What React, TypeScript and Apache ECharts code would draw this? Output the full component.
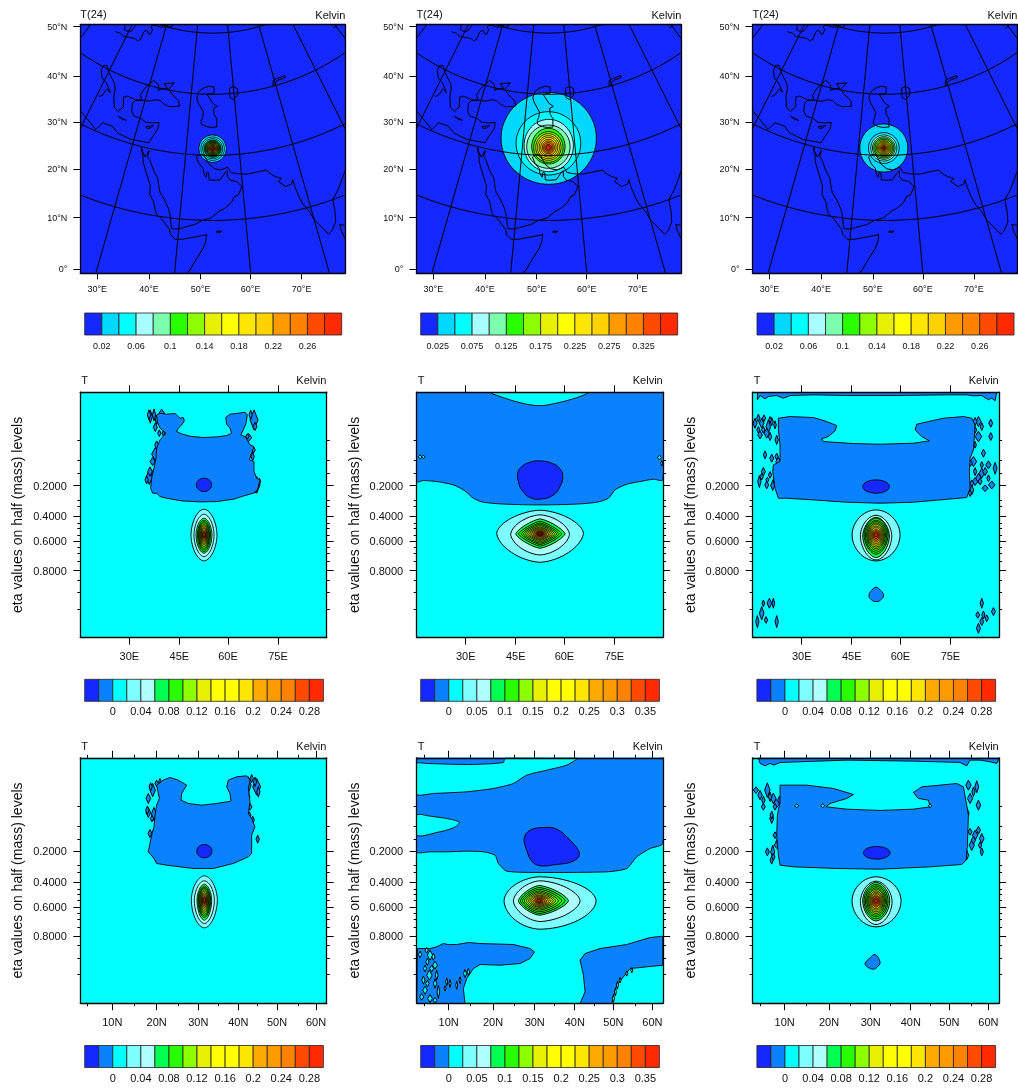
import React, { useEffect, useRef } from "react";
import * as echarts from "echarts";

const FONT = "Liberation Sans";
const DARK = "#1428ff";
const DODGER = "#0a82ff";
const CYAN = "#00ffff";

// ---------- colour bars ----------
const palette15 = ["#1428ff", "#00d8ff", "#00ffff", "#a8ffff", "#7dffb0", "#28ff00", "#8cff00", "#e6f000", "#ffff00", "#ffe600", "#ffd200", "#ff9a00", "#ff8200", "#ff4a00", "#ff2a00"];
const palette17 = ["#1428ff", "#0a82ff", "#00ffff", "#7dffff", "#b0ffff", "#00ff50", "#28ff00", "#8cff00", "#e6f000", "#ffff00", "#ffff00", "#ffe600", "#ffaa00", "#ff9a00", "#ff8200", "#ff4a00", "#ff2a00"];
const coreColors = ["#7dffff", "#b0ffff", "#00ff50", "#28ff00", "#28ff00", "#8cff00", "#8cff00", "#e6f000", "#e6f000", "#ffe600", "#ffaa00", "#ff8200", "#ff4a00", "#ff2a00"];
const tightCoreColors = ["#00d8ff", "#00ffff", "#00ffff", "#7dffb0", "#28ff00", "#28ff00", "#8cff00", "#8cff00", "#8cff00", "#e6f000", "#e6f000", "#e6f000", "#ffe600", "#ffd200", "#ff9a00", "#ff9a00", "#ff8200", "#ff4a00", "#ff2a00"];
const mapLevelsA = [0, 0.02, 0.04, 0.06, 0.08, 0.1, 0.12, 0.14, 0.16, 0.18, 0.2, 0.22, 0.24, 0.26, 0.28, 0.3];
const mapLabelsA = [0.02, 0.06, 0.1, 0.14, 0.18, 0.22, 0.26];
const mapLevelsB = [0, 0.025, 0.05, 0.075, 0.1, 0.125, 0.15, 0.175, 0.2, 0.225, 0.25, 0.275, 0.3, 0.325, 0.35, 0.375];
const mapLabelsB = [0.025, 0.075, 0.125, 0.175, 0.225, 0.275, 0.325];
const secLevelsA = [-0.04, -0.02, 0, 0.02, 0.04, 0.06, 0.08, 0.1, 0.12, 0.14, 0.16, 0.18, 0.2, 0.22, 0.24, 0.26, 0.28, 0.3];
const secLabelsA = [0, 0.04, 0.08, 0.12, 0.16, 0.2, 0.24, 0.28];
const secLevelsB = [-0.05, -0.025, 0, 0.025, 0.05, 0.075, 0.1, 0.125, 0.15, 0.175, 0.2, 0.225, 0.25, 0.275, 0.3, 0.325, 0.35, 0.375];
const secLabelsB = [0, 0.05, 0.1, 0.15, 0.2, 0.25, 0.3, 0.35];

// ---------- axes ----------
const mapLonTicks = [51, 206, 361, 511, 664];
const mapLonLabels = ["30°E", "40°E", "50°E", "60°E", "70°E"];
const mapLatTicks = [6, 154, 293, 433, 579, 734];
const mapLatLabels = ["50°N", "40°N", "30°N", "20°N", "10°N", "0°"];
const lonTicks = [147, 297, 443, 593];
const lonLabels = ["30E", "45E", "60E", "75E"];
const latTicks = [96, 229, 354, 474, 590, 707];
const latLabels = ["10N", "20N", "30N", "40N", "50N", "60N"];
const latMinor = [22, 162, 294, 414, 532, 654];
const etaTicks = [280, 372, 447, 535];
const etaLabels = ["0.2000", "0.4000", "0.6000", "0.8000"];
const etaMinor = [145, 205, 243, 323, 343, 393, 408, 428, 466, 483, 508, 563, 600, 650];

// ---------- geography, lon/lat ----------
const arabiaIndia = [[34.9, 29.5], [34.8, 28], [35.6, 27.3], [36.5, 26], [37.3, 24.8], [38.5, 23.5], [39.1, 21.7], [39.7, 20.3], [41, 18.8], [42.2, 17], [42.8, 15.5], [43.2, 13.6], [43.5, 12.7], [45, 12.8], [46.5, 13.4], [48.5, 14], [50, 14.9], [52.2, 15.6], [54, 17], [55.3, 17.6], [57, 18.9], [57.8, 20.2], [58.8, 20.5], [59.8, 22.4], [58.6, 23.6], [57, 24], [56.3, 24.9], [56.3, 26.3], [55.5, 25.5], [54.4, 24.2], [52.6, 24.1], [51.6, 24.2], [51.5, 25.8], [51, 26], [50.8, 24.8], [50.2, 25.7], [50, 26.8], [48.8, 28], [48, 29.5], [48.6, 30], [50, 30.2], [50.8, 29], [51.5, 27.9], [53, 26.8], [54.7, 26.5], [56.5, 27.1], [57.3, 25.8], [59, 25.4], [61.5, 25.1], [64, 25.3], [66.5, 25.4], [67.3, 24.5], [68.5, 23.5], [70, 22.8], [69, 22.3], [70.5, 20.8], [72, 21], [72.6, 21.9], [72.7, 20], [73, 18], [73.5, 16], [74.5, 14], [75, 12], [76.2, 10], [77, 8.3], [78, 8.8], [79.3, 10.3], [79.9, 12.5], [80.3, 15], [82.3, 16.7], [85, 19.5], [87, 21.3], [89, 21.8], [91, 22.5], [92, 21], [94.3, 17], [94.5, 16], [97, 17], [97.7, 15], [98.5, 11]];
const africaRedSea = [[32.5, 30], [33.5, 28], [34, 26.5], [35.5, 24], [37, 21.5], [37.3, 19.5], [38.5, 18], [39.5, 15.5], [41, 14.5], [43, 12.5], [43.3, 11.5], [44.5, 10.5], [46, 10.7], [48, 11.2], [51.2, 11.9], [51, 10.4], [50.5, 9], [49, 6.5], [48, 4.5], [46, 2.5], [43.5, 0], [41.5, -2], [40, -4]];
const sinai = [[32.5, 30], [33, 29], [34.2, 27.8], [34.9, 29.5]];
const medBlack = [[12, 33], [15, 32], [19, 30.3], [20, 32.5], [23, 32.6], [25, 31.5], [29, 31], [32, 31.2], [34.3, 31.3], [35, 33], [36, 35], [36, 36.7], [34, 36.2], [32, 36], [30.5, 36.5], [28, 36.7], [27, 37.5], [26.3, 39.5], [27, 40.4], [29, 41], [31.3, 41.2], [33.5, 42], [35, 42], [36.5, 41.3], [38.5, 41], [41.5, 41.5], [41, 42.7], [38, 44.4], [37, 45.3], [38.5, 47], [35, 46.3], [36.5, 45.3], [35, 45], [33.5, 44.4], [33, 45.8], [31, 46.5], [29.7, 45.2], [28.5, 43.5], [28, 42], [29, 41], [27, 40.6], [26, 40.7], [24, 40.8], [23, 40.3], [24, 38], [23, 36.5], [21.5, 37], [20, 39.5], [19.4, 41.5], [18.5, 42.5], [15, 44.5], [13.5, 45.7], [12.3, 45.3], [12.5, 44], [14, 42.4], [16, 41.8], [18.5, 40], [17, 40.5], [16.5, 38.5], [15.7, 38]];
const crete = [[23.6, 35.4], [25, 35.2], [26.2, 35.1], [25, 35.0], [23.6, 35.4]];
const cyprus = [[32.4, 35], [33.6, 35.3], [34.5, 35.6], [33.8, 34.9], [32.9, 34.6], [32.4, 35]];
const caspian = [[49, 37.5], [50.5, 37], [52, 36.8], [53.8, 36.9], [53.8, 39], [53, 40], [52.8, 41.5], [54, 42], [52.5, 42.8], [51, 44.5], [50.5, 45], [53, 45.3], [53, 46.8], [51, 47], [49, 46.4], [47.5, 45.5], [47, 44], [47.5, 43], [48.5, 41.8], [49.5, 40.5], [49.3, 39.2], [48.9, 38.4], [49, 37.5]];
const aral = [[58.5, 44], [59.5, 43.5], [61, 44.3], [61.5, 46], [60, 46.7], [58.5, 46.3], [58.5, 44]];
const balkhash = [[74, 45.2], [74.5, 46.3], [76, 46.6], [79, 46.7], [79, 46.2], [76, 46.1], [74.8, 45.5], [74, 45.2]];
const baikal = [[103.7, 51.6], [105, 51.6], [106.5, 52.5], [108, 53.5], [109.5, 55.5]];
const socotra = [[53.3, 12.5], [54.2, 12.4], [54.5, 12.6], [53.6, 12.7], [53.3, 12.5]];
const sriLanka = [[79.9, 9.5], [80.8, 9], [81.8, 7.5], [81, 6], [80, 6.3], [79.8, 8], [79.9, 9.5]];
const baltic = [[10, 54], [12, 54.3], [14, 54], [18.5, 54.7], [20, 54.5], [21, 55], [21, 57], [22, 57.7], [23.5, 57], [24.3, 57.2], [24.4, 58.3], [23.5, 58.7], [23.5, 59.2], [25, 59.5], [28, 59.5], [30, 60], [28, 60.6], [25, 60.2], [23, 59.9], [22, 60.5], [21.3, 61], [21.5, 63]];
const sweden = [[11, 58], [12.5, 56.3], [13, 55.5], [14.3, 55.5], [16, 56], [16.7, 58], [18.9, 60], [17.3, 61], [17.5, 62.5]];
const ladoga = [[30.8, 60], [32.5, 60.2], [32.8, 61], [31, 61.5], [30.2, 61], [30.8, 60]];
const coastlines = [arabiaIndia, africaRedSea, sinai, medBlack, crete, cyprus, caspian, aral, balkhash, baikal, socotra, sriLanka, baltic, sweden, ladoga];
const meridians = [0, 15, 30, 45, 60, 75, 90, 105, 120];
const parallels = [15, 30, 45, 60, 75];

// ---------- map contours: cx, cy, left, right, top, bottom, pointiness ----------
const mapRings1 = [[397, 372, 41, 41, 41, 41, 1], [397, 372, 35, 35, 35, 35, 1], [397, 372, 30, 30, 30, 30, 1], [397, 372, 26, 26, 26, 26, 1], [397, 372, 24, 24, 24, 24, 1], [397, 372, 22, 22, 22, 22, 1], [397, 372, 20.5, 20.5, 20.5, 20.5, 1], [397, 372, 19, 19, 19, 19, 1], [397, 372, 17.5, 17.5, 17.5, 17.5, 1], [397, 372, 16, 16, 16, 16, 1], [397, 372, 14.5, 14.5, 14.5, 14.5, 1], [397, 372, 13, 13, 13, 13, 1], [397, 372, 11.5, 11.5, 11.5, 11.5, 1], [397, 372, 10, 10, 10, 10, 1], [397, 372, 8.5, 8.5, 8.5, 8.5, 1], [397, 372, 7, 7, 7, 7, 1], [397, 372, 5.5, 5.5, 5.5, 5.5, 1], [397, 372, 4, 4, 4, 4, 1], [397, 372, 2.5, 2.5, 2.5, 2.5, 1]];
const mapRings2 = [[397, 341, 143, 143, 138, 138, 1], [396, 356, 97, 97, 95, 95, 1], [397, 363, 74, 74, 79, 78, 1], [396, 366, 65, 65, 65, 65, 1], [396, 366, 50, 50, 55, 52, 1], [396, 369, 44, 44, 48, 44, 1], [396, 369, 38, 38, 42, 38, 1], [396, 369, 33, 33, 36, 33, 1], [396, 369, 28, 28, 31, 28, 1], [396, 369, 23, 23, 25, 23, 1], [396, 369, 18, 18, 20, 18, 1], [396, 369, 14, 14, 15, 14, 1], [396, 369, 10, 10, 10, 10, 1], [396, 369, 6, 6, 6, 6, 1]];
const mapRings3 = [[394, 370, 72, 72, 72, 72, 1], [394, 370, 46, 46, 46, 46, 1], [394, 370, 39, 39, 39, 39, 1], [394, 370, 34, 34, 34, 34, 1], [394, 370, 30, 30, 30, 30, 1], [394, 370, 26, 26, 26, 26, 1], [394, 370, 22, 22, 22, 22, 1], [394, 370, 19, 19, 19, 19, 1], [394, 370, 16, 16, 16, 16, 1], [394, 370, 13, 13, 13, 13, 1], [394, 370, 10, 10, 10, 10, 1], [394, 370, 7, 7, 7, 7, 1], [394, 370, 5, 5, 5, 5, 1], [394, 370, 3, 3, 3, 3, 1]];

// ---------- section contours (offset by each panel's origin below) ----------
const lonA_blob = [[470, 150], [480, 145], [500, 148], [525, 146], [535, 155], [540, 160], [550, 158], [553, 168], [545, 180], [535, 190], [530, 200], [545, 207], [570, 214], [610, 218], [650, 216], [680, 212], [695, 205], [690, 190], [680, 178], [677, 158], [690, 148], [715, 145], [735, 142], [742, 150], [738, 175], [730, 195], [722, 210], [735, 215], [742, 225], [750, 240], [762, 245], [755, 265], [748, 285], [762, 290], [762, 320], [770, 340], [780, 345], [772, 375], [760, 385], [735, 392], [700, 403], [650, 410], [600, 411], [545, 408], [500, 400], [480, 395], [470, 385], [458, 385], [452, 370], [455, 340], [462, 310], [468, 280], [470, 250], [480, 225], [498, 205], [480, 190], [472, 170]];
const lonA_spots = [[451, 155, 6, 20], [466, 187, 6, 13], [485, 145, 8, 12], [466, 268, 11, 20], [448, 337, 10, 22], [762, 165, 12, 30], [745, 218, 10, 13], [760, 255, 6, 10], [770, 360, 10, 25], [447, 150, 5, 15], [462, 150, 5, 18], [470, 165, 4, 14], [478, 205, 5, 10], [490, 205, 4, 8], [470, 240, 6, 12], [458, 290, 8, 12], [450, 320, 7, 14], [440, 345, 5, 12], [463, 320, 6, 10], [752, 150, 5, 14], [765, 185, 6, 12], [742, 215, 5, 8], [758, 275, 5, 12], [755, 300, 5, 10], [768, 350, 6, 14], [778, 350, 4, 10], [765, 375, 6, 10]];
const lonA_low = [[612, 360, 23, 23, 20, 20, 1]];
const lonA_rings = [[612, 510, 39, 39, 77, 78, 1.1], [612, 510, 30, 30, 62, 65, 1.1], [612, 510, 24, 24, 50, 55, 1.1], [612, 510, 20, 20, 44, 50, 1.1], [612, 510, 17, 17, 40, 45, 1.1], [612, 510, 15, 15, 36, 40, 1.1], [612, 510, 13, 13, 32, 35, 1.1], [612, 510, 11, 11, 28, 30, 1.1], [612, 510, 9, 9, 24, 26, 1.1], [612, 510, 8, 8, 20, 22, 1.1], [612, 510, 7, 7, 16, 18, 1.1], [612, 510, 5, 5, 12, 14, 1.1], [612, 510, 4, 4, 8, 10, 1], [612, 510, 3, 3, 5, 6, 1]];

const lonB_upper = [[230, 82], [968, 82], [968, 345], [940, 343], [900, 350], [860, 358], [825, 375], [805, 400], [770, 412], [700, 418], [600, 420], [500, 418], [430, 412], [400, 400], [375, 378], [340, 360], [290, 350], [250, 347], [230, 350]];
const lonB_cap = [[450, 82], [745, 82], [720, 95], [670, 110], [610, 122], [570, 120], [520, 108], [480, 95]];
const lonB_spots = [[240, 276, 6, 6], [250, 276, 5, 5], [958, 278, 6, 7], [965, 295, 3, 8]];
const lonB_low = [[533, 325], [545, 305], [570, 292], [600, 288], [635, 295], [660, 312], [668, 335], [660, 365], [640, 390], [605, 402], [570, 398], [545, 375], [535, 350]];
const lonB_rings = [[600, 505, 130, 130, 69, 87, 1.2], [600, 508, 88, 88, 58, 62, 1.2], [600, 507, 73, 75, 45, 43, 1.5], [600, 507, 65, 65, 38, 37, 1.6], [600, 507, 57, 57, 33, 32, 1.6], [600, 507, 50, 50, 29, 28, 1.6], [600, 507, 44, 44, 25, 24, 1.6], [600, 507, 38, 38, 21, 20, 1.6], [600, 507, 32, 32, 18, 17, 1.6], [600, 507, 27, 27, 15, 14, 1.6], [600, 507, 22, 22, 12, 11, 1.6], [600, 507, 17, 17, 9, 8, 1.6], [600, 507, 13, 13, 7, 6, 1.6], [600, 507, 9, 9, 5, 4, 1.6], [600, 507, 5, 5, 3, 2, 1.6]];

const lonC_top = [[232, 82], [950, 82], [945, 108], [935, 100], [925, 105], [905, 92], [880, 93], [860, 90], [800, 90], [650, 92], [500, 92], [400, 90], [330, 92], [310, 100], [290, 92], [265, 95], [255, 102], [240, 92], [232, 105]];
const lonC_blob = [[295, 160], [330, 155], [400, 158], [440, 170], [470, 182], [465, 198], [445, 215], [425, 222], [430, 230], [520, 236], [600, 238], [700, 235], [748, 228], [725, 215], [705, 195], [710, 178], [745, 170], [790, 160], [850, 155], [875, 160], [885, 180], [880, 255], [870, 280], [868, 320], [870, 370], [860, 398], [780, 405], [700, 412], [600, 415], [500, 412], [400, 405], [320, 400], [295, 400], [285, 370], [278, 320], [280, 300], [300, 290], [300, 240], [295, 195]];
const lonC_spots = [[225, 175, 6, 15], [245, 175, 7, 15], [265, 185, 7, 20], [275, 170, 5, 12], [240, 210, 7, 12], [260, 205, 8, 15], [255, 270, 5, 12], [275, 280, 6, 12], [250, 320, 6, 12], [270, 330, 5, 10], [238, 350, 5, 18], [260, 360, 6, 12], [278, 362, 6, 15], [295, 290, 8, 12], [895, 170, 8, 15], [932, 175, 6, 12], [932, 215, 6, 12], [895, 215, 10, 16], [910, 265, 6, 12], [880, 290, 10, 15], [925, 300, 8, 12], [945, 310, 6, 18], [905, 325, 8, 15], [895, 340, 8, 15], [875, 375, 6, 15], [935, 360, 10, 12], [915, 370, 9, 10], [885, 350, 8, 12], [232, 770, 5, 18], [245, 745, 7, 20], [258, 765, 5, 10], [268, 715, 7, 15], [280, 715, 4, 15], [250, 715, 4, 10], [290, 770, 5, 18], [905, 715, 5, 15], [893, 750, 6, 10], [910, 750, 5, 12], [940, 740, 6, 12], [920, 760, 5, 10], [895, 790, 6, 15], [905, 770, 6, 12], [235, 160, 5, 12], [252, 160, 5, 10], [270, 165, 4, 10], [285, 180, 4, 12], [235, 195, 5, 10], [250, 195, 5, 10], [270, 215, 5, 12], [290, 225, 5, 14], [305, 225, 5, 12], [325, 235, 4, 10], [345, 232, 4, 8], [365, 225, 3, 8], [295, 300, 7, 6], [290, 275, 5, 10], [245, 335, 5, 10], [262, 345, 5, 8], [283, 345, 4, 12], [885, 170, 6, 12], [905, 185, 5, 12], [870, 205, 6, 10], [885, 195, 5, 10], [850, 230, 6, 12], [835, 240, 4, 8], [885, 240, 4, 10], [870, 295, 7, 10], [885, 320, 5, 12], [915, 320, 7, 12], [900, 350, 6, 10], [875, 355, 6, 10], [925, 340, 5, 10], [870, 385, 5, 10], [905, 300, 5, 10]];
const lonC_bump = [[588, 667], [600, 675], [610, 690], [605, 702], [590, 710], [572, 703], [567, 690], [575, 676]];
const lonC_low = [[588, 365, 40, 40, 20, 20, 1]];
const lonC_rings = [[588, 510, 72, 72, 75, 78, 1.05], [588, 513, 47, 47, 62, 72, 1.1], [588, 513, 40, 40, 56, 65, 1.15], [588, 510, 36, 36, 50, 58, 1.15], [588, 510, 32, 32, 44, 52, 1.1], [588, 510, 28, 28, 40, 46, 1.1], [588, 510, 25, 25, 36, 41, 1.1], [588, 510, 22, 22, 32, 36, 1.1], [588, 510, 19, 19, 27, 31, 1.1], [588, 510, 16, 16, 23, 26, 1.1], [588, 510, 13, 13, 18, 21, 1.1], [588, 510, 10, 10, 14, 16, 1.1], [588, 510, 7, 7, 10, 11, 1], [588, 510, 4, 4, 6, 6, 1]];

const latA_blob = [[470, 150], [490, 135], [510, 127], [535, 135], [560, 150], [545, 175], [543, 195], [565, 205], [605, 210], [650, 205], [693, 198], [690, 175], [680, 155], [685, 135], [710, 125], [740, 122], [750, 135], [745, 160], [750, 200], [745, 235], [755, 250], [765, 275], [755, 300], [755, 355], [745, 365], [700, 385], [640, 400], [580, 400], [500, 390], [470, 385], [462, 370], [445, 350], [455, 300], [462, 275], [465, 240], [470, 210], [478, 190]];
const latA_spots = [[445, 190, 7, 15], [458, 165, 8, 20], [445, 232, 7, 15], [462, 237, 8, 20], [450, 295, 6, 12], [773, 312, 5, 12], [745, 150, 8, 25], [770, 155, 12, 25], [750, 215, 6, 10], [755, 265, 5, 12], [452, 155, 5, 12], [470, 145, 5, 10], [480, 140, 4, 10], [442, 225, 5, 12], [456, 250, 5, 10], [458, 295, 5, 8], [738, 145, 6, 14], [755, 130, 5, 12], [765, 140, 5, 14], [775, 170, 5, 16], [745, 185, 5, 12], [748, 240, 5, 10], [758, 255, 5, 12]];
const latA_low = [[613, 348, 23, 23, 20, 20, 1]];
const latA_rings = [[613, 495, 39, 39, 73, 83, 1.1], [613, 495, 30, 30, 58, 70, 1.1], [613, 495, 22, 22, 48, 60, 1.1], [613, 495, 19, 19, 42, 52, 1.1], [613, 495, 17, 17, 38, 47, 1.1], [613, 495, 15, 15, 35, 42, 1.1], [613, 495, 13, 13, 31, 37, 1.1], [613, 495, 11, 11, 27, 32, 1.1], [613, 495, 9, 9, 23, 27, 1.1], [613, 495, 8, 8, 19, 22, 1.1], [613, 495, 7, 7, 15, 18, 1.1], [613, 495, 5, 5, 11, 14, 1.1], [613, 495, 4, 4, 8, 10, 1], [613, 495, 3, 3, 5, 6, 1]];

const latB_upper = [[230, 68], [968, 68], [968, 325], [930, 340], [890, 365], [860, 400], [800, 410], [600, 412], [500, 408], [475, 385], [465, 360], [430, 350], [380, 348], [320, 350], [270, 350], [230, 350]];
const latB_gapA = [[230, 85], [260, 85], [320, 87], [400, 88], [490, 82], [495, 68], [712, 68], [680, 90], [620, 105], [560, 120], [520, 145], [460, 160], [380, 170], [280, 175], [230, 178]];
const latB_gapB = [[230, 240], [270, 243], [330, 252], [358, 262], [340, 278], [290, 292], [230, 300]];
const latB_low = [[552, 310], [570, 285], [610, 277], [650, 282], [690, 315], [718, 355], [700, 378], [650, 388], [600, 392], [575, 378], [560, 345]];
const latB_lowerLeft = [[232, 640], [270, 640], [290, 635], [310, 625], [325, 628], [350, 628], [385, 622], [420, 625], [520, 628], [570, 640], [583, 650], [570, 670], [540, 685], [480, 690], [420, 688], [400, 700], [380, 730], [370, 760], [375, 805], [230, 805]];
const latB_holes = [[240, 658, 5, 10], [270, 660, 8, 15], [262, 680, 5, 10], [285, 690, 7, 12], [268, 720, 8, 15], [290, 720, 4, 15], [255, 765, 7, 12], [270, 790, 7, 12], [295, 770, 4, 20], [320, 740, 3, 12], [350, 750, 3, 12], [375, 715, 5, 12], [260, 645, 5, 8], [280, 665, 5, 10], [255, 700, 5, 10], [275, 700, 6, 10], [250, 735, 5, 12], [285, 745, 5, 14], [262, 745, 5, 10], [245, 785, 6, 10], [285, 795, 6, 8], [315, 760, 3, 8], [330, 745, 3, 12], [360, 735, 3, 10], [385, 710, 4, 10], [820, 790, 3, 12], [826, 770, 3, 12], [832, 750, 3, 12], [840, 735, 3, 8], [860, 715, 3, 8], [875, 705, 3, 8]];
const latB_lowerRight = [[968, 603], [930, 607], [860, 628], [780, 640], [735, 655], [720, 675], [730, 720], [735, 770], [720, 805], [815, 805], [830, 750], [870, 700], [920, 695], [968, 690]];
const latB_rings = [[600, 497, 108, 168, 72, 85, 1.1], [600, 497, 80, 120, 60, 62, 1.2], [597, 497, 62, 88, 46, 43, 1.4], [597, 497, 56, 78, 40, 38, 1.4], [597, 497, 50, 68, 35, 33, 1.4], [597, 497, 44, 58, 30, 28, 1.4], [597, 497, 38, 50, 26, 24, 1.4], [597, 497, 32, 43, 22, 20, 1.4], [597, 497, 27, 36, 18, 17, 1.4], [597, 497, 22, 30, 15, 14, 1.4], [597, 497, 17, 24, 12, 11, 1.4], [597, 497, 13, 18, 9, 8, 1.4], [597, 497, 9, 12, 6, 6, 1.4], [597, 497, 5, 7, 3, 3, 1.4]];

const latC_top = [[235, 68], [958, 68], [950, 85], [930, 80], [900, 75], [870, 75], [860, 92], [840, 82], [700, 78], [500, 75], [300, 82], [282, 90], [270, 85], [255, 92], [240, 85]];
const latC_blob = [[300, 150], [380, 150], [460, 160], [520, 178], [500, 190], [450, 205], [438, 215], [500, 222], [600, 226], [700, 222], [750, 215], [745, 195], [715, 190], [700, 172], [725, 155], [780, 150], [830, 145], [850, 155], [865, 240], [862, 330], [858, 375], [845, 388], [750, 395], [600, 402], [470, 400], [340, 395], [300, 390], [295, 360], [290, 300], [292, 240], [300, 200]];
const latC_spots = [[228, 165, 8, 10], [240, 180, 7, 14], [262, 165, 8, 22], [280, 190, 8, 16], [290, 205, 10, 12], [250, 215, 6, 10], [275, 250, 6, 15], [315, 240, 6, 10], [262, 350, 6, 12], [278, 350, 6, 20], [295, 320, 8, 15], [275, 375, 5, 12], [312, 290, 5, 10], [835, 185, 6, 15], [865, 150, 8, 15], [890, 155, 6, 18], [870, 190, 8, 15], [895, 210, 7, 15], [860, 235, 7, 18], [885, 300, 8, 15], [905, 310, 7, 15], [905, 350, 5, 12], [860, 360, 6, 14], [875, 330, 8, 16], [250, 195, 5, 12], [270, 185, 5, 14], [285, 215, 6, 10], [298, 195, 5, 12], [305, 225, 6, 12], [275, 240, 5, 12], [290, 330, 8, 10], [285, 300, 6, 10], [280, 365, 5, 10], [835, 170, 6, 14], [850, 190, 5, 10], [880, 170, 5, 14], [830, 215, 6, 10], [845, 230, 5, 12], [870, 290, 6, 10], [880, 315, 6, 12], [895, 285, 6, 12], [900, 330, 5, 10], [855, 350, 5, 12], [850, 375, 5, 8]];
const latC_holes = [[350, 212, 6, 6], [428, 212, 6, 6], [750, 212, 5, 6]];
const latC_bump = [[555, 685], [570, 668], [585, 658], [600, 680], [595, 692], [580, 702], [562, 695]];
const latC_low = [[590, 353, 40, 40, 19, 19, 1]];
const latC_rings = [[588, 497, 72, 75, 72, 78, 1.05], [588, 500, 47, 48, 62, 68, 1.1], [588, 497, 40, 41, 55, 60, 1.1], [588, 497, 36, 36, 49, 54, 1.1], [588, 497, 32, 32, 44, 48, 1.1], [588, 497, 28, 28, 39, 43, 1.1], [588, 497, 25, 25, 35, 38, 1.1], [588, 497, 22, 22, 30, 33, 1.1], [588, 497, 19, 19, 26, 28, 1.1], [588, 497, 16, 16, 22, 24, 1.1], [588, 497, 13, 13, 18, 19, 1.1], [588, 497, 10, 10, 14, 15, 1], [588, 497, 7, 7, 10, 10, 1], [588, 497, 4, 4, 6, 6, 1]];

type Pt = number[];
type Shape = { pts: Pt[]; fill: string; smooth?: number; lw?: number };

function project(lon: number, lat: number): Pt {
  const n = 0.707;
  const phi = (Math.max(lat, -30) * Math.PI) / 180;
  const rho = 1292 * Math.pow(Math.tan(Math.PI / 4 - phi / 2), n);
  const th = (n * (lon - 52.5) * Math.PI) / 180;
  return [397 + rho * Math.sin(th), rho * Math.cos(th) - 484];
}
function sample(a: number, b: number, step: number): number[] {
  const out: number[] = [];
  for (let v = a; v <= b + 1e-6; v += step) out.push(v);
  return out;
}
function ringPts(r: number[], ox: number, oy: number): Pt[] {
  const [cx, cy, l, rr, t, b, e] = r;
  return sample(0, 71, 1).map((i) => {
    const a = (i / 72) * 2 * Math.PI;
    const c = Math.cos(a);
    const s = Math.sin(a);
    return [
      cx - ox + (c > 0 ? rr : l) * Math.sign(c) * Math.pow(Math.abs(c), e),
      cy - oy + (s > 0 ? b : t) * Math.sign(s) * Math.pow(Math.abs(s), e),
    ];
  });
}
function shiftPts(p: number[][], ox: number, oy: number): Pt[] {
  return p.map(([x, y]) => [x - ox, y - oy]);
}
function diamonds(list: number[][], fill: string, ox: number, oy: number): Shape[] {
  return list.map(([x, y, rx, ry]) => ({
    pts: [[x - ox, y - ry - oy], [x + rx - ox, y - oy], [x - ox, y + ry - oy], [x - rx - ox, y - oy]],
    fill,
    lw: 1,
  }));
}
function rings(list: number[][], pal: string[], start: number, ox: number, oy: number, lw = 0.9): Shape[] {
  return list.map((r, i) => ({ pts: ringPts(r, ox, oy), fill: pal[Math.min(start + i, pal.length - 1)], lw }));
}
function region(p: number[][], fill: string, ox: number, oy: number, smooth = 0): Shape {
  return { pts: shiftPts(p, ox, oy), fill, smooth, lw: 0.9 };
}

const tickLine = { color: "#000", width: 1 };

function axis(
  dim: "x" | "y",
  grid: number,
  position: string,
  max: number,
  o: { line?: boolean; ticks?: number[]; len?: number; labels?: string[]; fontSize?: number; margin?: number; name?: string; nameGap?: number },
) {
  const ticks = o.ticks || [];
  const a: any = {
    type: "value",
    gridIndex: grid,
    position,
    min: 0,
    max,
    inverse: dim === "y",
    z: 6,
    splitLine: { show: false },
    axisLine: { show: !!o.line, onZero: false, lineStyle: { color: "#000", width: 1.3 } },
    axisTick: { show: ticks.length > 0, length: o.len || 3, customValues: ticks, lineStyle: tickLine },
    axisLabel: o.labels
      ? {
          show: true,
          customValues: ticks,
          margin: o.margin,
          fontSize: o.fontSize,
          fontFamily: FONT,
          color: "#111",
          formatter: (v: number) => o.labels![ticks.indexOf(v)] ?? "",
        }
      : { show: false },
  };
  if (o.name) {
    a.name = o.name;
    a.nameLocation = "middle";
    a.nameRotate = 90;
    a.nameGap = o.nameGap;
    a.nameTextStyle = { fontSize: 14, fontFamily: FONT, color: "#111" };
  }
  return a;
}

function buildOption() {
  const grid: any[] = [];
  const xAxis: any[] = [];
  const yAxis: any[] = [];
  const series: any[] = [];
  const graphic: any[] = [];

  const text = (t: string, x: number, y: number, fontSize: number, textAlign: string) =>
    graphic.push({
      type: "text",
      x,
      y,
      silent: true,
      style: { text: t, fontSize, fontFamily: FONT, fill: "#111", textAlign, textVerticalAlign: "middle", verticalAlign: "middle" },
    });

  const addShapes = (shapes: Shape[], xi: number, yi: number) =>
    series.push({
      type: "custom",
      coordinateSystem: "cartesian2d",
      xAxisIndex: xi,
      yAxisIndex: yi,
      clip: true,
      silent: true,
      data: shapes.map((_, i) => [i]),
      renderItem: (_p: any, api: any) => {
        const s = shapes[api.value(0)];
        return {
          type: "polygon",
          shape: { points: s.pts.map((p) => api.coord(p)), smooth: s.smooth || 0 },
          style: { fill: s.fill, stroke: "#000", lineWidth: s.lw || 0.9 },
        };
      },
    });

  const addColorBar = (left: number, top: number, width: number, height: number, levels: number[], pal: string[], labels: number[], fontSize: number, margin: number) => {
    const g = grid.length;
    grid.push({ left, top, width, height });
    const xi = xAxis.length;
    xAxis.push({
      type: "value",
      gridIndex: g,
      min: levels[0],
      max: levels[levels.length - 1],
      position: "bottom",
      splitLine: { show: false },
      axisLine: { show: false, onZero: false },
      axisTick: { show: false },
      axisLabel: { show: true, customValues: labels, margin, fontSize, fontFamily: FONT, color: "#111", formatter: (v: number) => String(+v.toFixed(3)) },
    });
    const yi = yAxis.length;
    yAxis.push({ type: "value", gridIndex: g, min: 0, max: 1, show: false, splitLine: { show: false } });
    series.push({
      type: "custom",
      coordinateSystem: "cartesian2d",
      xAxisIndex: xi,
      yAxisIndex: yi,
      silent: true,
      data: pal.map((_, i) => [levels[i], levels[i + 1], i]),
      renderItem: (_p: any, api: any) => {
        const a = api.coord([api.value(0), 1]);
        const b = api.coord([api.value(1), 0]);
        return {
          type: "rect",
          shape: { x: a[0], y: a[1], width: b[0] - a[0], height: b[1] - a[1] },
          style: { fill: pal[api.value(2)], stroke: "#222", lineWidth: 0.8 },
        };
      },
    });
  };

  const addMap = (left: number, shapes: Shape[], bar: { l: number; levels: number[]; labels: number[] }) => {
    const g = grid.length;
    const W = 795;
    const H = 746;
    grid.push({ left, top: 24.7, width: 265, height: 248.6, show: true, backgroundColor: DARK, borderWidth: 0 });
    const xi = xAxis.length;
    xAxis.push(axis("x", g, "bottom", W, { line: true, ticks: mapLonTicks, len: 6, labels: mapLonLabels, fontSize: 9, margin: 11 }));
    xAxis.push(axis("x", g, "top", W, { line: true }));
    const yi = yAxis.length;
    yAxis.push(axis("y", g, "left", H, { line: true, ticks: mapLatTicks, len: 7, labels: mapLatLabels, fontSize: 9, margin: 13 }));
    yAxis.push(axis("y", g, "right", H, { line: true }));
    addShapes(shapes, xi, yi);
    const lines: Pt[][] = [
      ...coastlines.map((c) => c.map(([lo, la]) => project(lo, la))),
      ...meridians.map((lo) => sample(-10, 80, 5).map((la) => project(lo, la))),
      ...parallels.map((la) => sample(-30, 150, 3).map((lo) => project(lo, la))),
    ];
    series.push({
      type: "custom",
      coordinateSystem: "cartesian2d",
      xAxisIndex: xi,
      yAxisIndex: yi,
      clip: true,
      silent: true,
      data: lines.map((_, i) => [i]),
      renderItem: (_p: any, api: any) => ({
        type: "polyline",
        shape: { points: lines[api.value(0)].map((p) => api.coord(p)) },
        style: { stroke: "#000", fill: null, lineWidth: 1 },
      }),
    });
    text("T(24)", left, 13.5, 11, "left");
    text("Kelvin", left + 265, 15, 11, "right");
    addColorBar(bar.l, 313, 257, 22, bar.levels, palette15, bar.labels, 9, 6);
  };

  const addSection = (
    left: number,
    top: number,
    shapes: Shape[],
    xTicks: number[],
    xLabels: string[],
    xMinor: number[],
    bar: { l: number; t: number; levels: number[]; labels: number[] },
    titleY: number,
  ) => {
    const g = grid.length;
    const W = 739;
    const H = 736;
    grid.push({ left, top, width: 246.4, height: 245.4, show: true, backgroundColor: CYAN, borderWidth: 0 });
    const xi = xAxis.length;
    xAxis.push(axis("x", g, "bottom", W, { line: true, ticks: xTicks, len: 7, labels: xLabels, fontSize: 11, margin: 13 }));
    xAxis.push(axis("x", g, "top", W, { line: true, ticks: xTicks, len: 7 }));
    if (xMinor.length) {
      xAxis.push(axis("x", g, "bottom", W, { ticks: xMinor, len: 3 }));
      xAxis.push(axis("x", g, "top", W, { ticks: xMinor, len: 3 }));
    }
    const yi = yAxis.length;
    yAxis.push(axis("y", g, "left", H, { line: true, ticks: etaTicks, len: 7, labels: etaLabels, fontSize: 11, margin: 13.5, name: "eta values on half (mass) levels", nameGap: 56 }));
    yAxis.push(axis("y", g, "right", H, { line: true, ticks: etaTicks, len: 7 }));
    yAxis.push(axis("y", g, "left", H, { ticks: etaMinor, len: 3 }));
    yAxis.push(axis("y", g, "right", H, { ticks: etaMinor, len: 3 }));
    addShapes(shapes, xi, yi);
    text("T", left + 1, titleY, 11, "left");
    text("Kelvin", left + 246, titleY, 11, "right");
    addColorBar(bar.l, bar.t, 238.7, 22, bar.levels, palette17, bar.labels, 11, 4.5);
  };

  // ---- row 1: maps ----
  addMap(80.3, rings(mapRings1, tightCoreColors, 0, 0, 0, 0.9), { l: 84.7, levels: mapLevelsA, labels: mapLabelsA });
  addMap(416.4, rings(mapRings2, palette15, 1, 0, 0, 0.9), { l: 420.7, levels: mapLevelsB, labels: mapLabelsB });
  addMap(752.5, rings(mapRings3, palette15, 1, 0, 0, 0.9), { l: 757, levels: mapLevelsA, labels: mapLabelsA });

  // ---- row 2: sections along longitude ----
  const shapesLonA: Shape[] = [
    ...diamonds(lonA_spots, DODGER, 241, 82),
    region(lonA_blob, DODGER, 241, 82),
    ...rings(lonA_low, [DARK], 0, 241, 82),
    ...rings(lonA_rings, coreColors, 0, 241, 82, 0.9),
  ];
  const shapesLonB: Shape[] = [
    region(lonB_upper, DODGER, 230, 82, 0.25),
    region(lonB_cap, CYAN, 230, 82, 0.25),
    ...diamonds(lonB_spots, CYAN, 230, 82),
    region(lonB_low, DARK, 230, 82, 0.5),
    ...rings(lonB_rings, coreColors, 0, 230, 82, 1),
  ];
  const shapesLonC: Shape[] = [
    region(lonC_top, DODGER, 218, 82),
    ...diamonds(lonC_spots, DODGER, 218, 82),
    region(lonC_blob, DODGER, 218, 82),
    region(lonC_bump, DODGER, 218, 82, 0.5),
    ...rings(lonC_low, [DARK], 0, 218, 82),
    ...rings(lonC_rings, coreColors, 0, 218, 82, 1),
  ];
  addSection(80.3, 392.2, shapesLonA, lonTicks, lonLabels, [], { l: 84.7, t: 679.3, levels: secLevelsA, labels: secLabelsA }, 379.7);
  addSection(416.7, 392.2, shapesLonB, lonTicks, lonLabels, [], { l: 420.7, t: 679.3, levels: secLevelsB, labels: secLabelsB }, 379.7);
  addSection(752.7, 392.2, shapesLonC, lonTicks, lonLabels, [], { l: 756.9, t: 679.3, levels: secLevelsA, labels: secLabelsA }, 379.7);

  // ---- row 3: sections along latitude ----
  const shapesLatA: Shape[] = [
    ...diamonds(latA_spots, DODGER, 241, 68),
    region(latA_blob, DODGER, 241, 68),
    ...rings(latA_low, [DARK], 0, 241, 68),
    ...rings(latA_rings, coreColors, 0, 241, 68, 0.9),
  ];
  const shapesLatB: Shape[] = [
    region(latB_upper, DODGER, 230, 68, 0.2),
    region(latB_gapA, CYAN, 230, 68, 0.2),
    region(latB_gapB, CYAN, 230, 68, 0.3),
    region(latB_low, DARK, 230, 68, 0.4),
    region(latB_lowerLeft, DODGER, 230, 68),
    region(latB_lowerRight, DODGER, 230, 68),
    ...diamonds(latB_holes, CYAN, 230, 68),
    ...rings(latB_rings, coreColors, 0, 230, 68, 1),
  ];
  const shapesLatC: Shape[] = [
    region(latC_top, DODGER, 218, 68),
    ...diamonds(latC_spots, DODGER, 218, 68),
    region(latC_blob, DODGER, 218, 68),
    ...diamonds(latC_holes, CYAN, 218, 68),
    region(latC_bump, DODGER, 218, 68, 0.4),
    ...rings(latC_low, [DARK], 0, 218, 68),
    ...rings(latC_rings, coreColors, 0, 218, 68, 1),
  ];
  addSection(80.3, 757.8, shapesLatA, latTicks, latLabels, latMinor, { l: 84.7, t: 1045.5, levels: secLevelsA, labels: secLabelsA }, 746);
  addSection(416.7, 757.8, shapesLatB, latTicks, latLabels, latMinor, { l: 420.7, t: 1045.5, levels: secLevelsB, labels: secLabelsB }, 746);
  addSection(752.7, 757.8, shapesLatC, latTicks, latLabels, latMinor, { l: 756.9, t: 1045.5, levels: secLevelsA, labels: secLabelsA }, 746);

  return { animation: false, backgroundColor: "#fff", grid, xAxis, yAxis, series, graphic };
}

export default function App() {
  const ref = useRef<HTMLDivElement>(null);
  useEffect(() => {
    const chart = echarts.init(ref.current!, undefined, { renderer: "svg" });
    chart.setOption(buildOption() as any);
    return () => chart.dispose();
  }, []);
  return (
    <div
      ref={ref}
      style={{ position: "absolute", left: 0, top: 0, width: 1018, height: 1089, filter: "blur(0.6px)" }}
    />
  );
}
